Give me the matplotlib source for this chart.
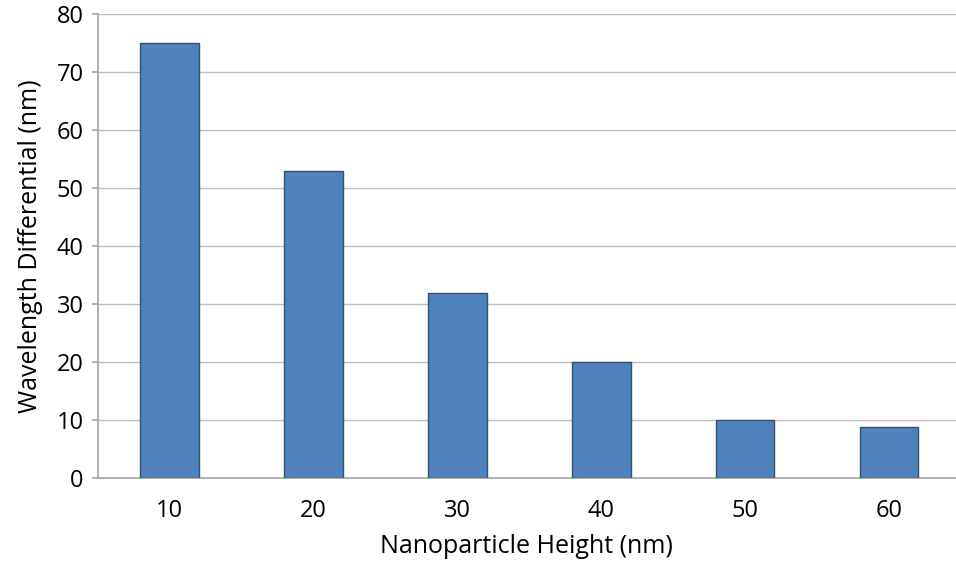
import matplotlib
matplotlib.use("Agg")
import matplotlib.pyplot as plt

heights_nm = ["10", "20", "30", "40", "50", "60"]
wavelength_diff = [75, 53, 32, 20, 10, 8.9]
y_ticks = [0, 10, 20, 30, 40, 50, 60, 70, 80]

plt.rcParams['font.family'] = ['Open Sans', 'DejaVu Sans']

fig = plt.figure(figsize=(9.56, 5.61), dpi=100)
W, H = 956, 561
left, right, top, bottom = 97.5, 956, 14, 478.3
ax = fig.add_axes([left / W, 1 - bottom / H, (right - left) / W, (bottom - top) / H])

x = list(range(len(heights_nm)))
ax.bar(x, wavelength_diff, width=0.406, color="#4F81BD", edgecolor="#3A4F68",
       linewidth=1.0, zorder=3)

ax.set_ylim(0, 80)
ax.set_xlim(-0.5, 5.464)
ax.set_yticks(y_ticks)
ax.set_xticks(x)
ax.set_xticklabels(heights_nm)
ax.yaxis.grid(True, color="#BDBDBD", linewidth=1.0, zorder=0)
ax.set_axisbelow(True)

for side in ("top", "right"):
    ax.spines[side].set_visible(False)
for side in ("left", "bottom"):
    ax.spines[side].set_color("#A6A6A6")
    ax.spines[side].set_linewidth(1.2)

ax.tick_params(axis="x", length=0, labelsize=17, colors="black", pad=15)
ax.tick_params(axis="y", length=4, width=1.2, color="#A6A6A6", direction="out",
               labelsize=17, labelcolor="black", pad=6)

ax.set_xlabel("Nanoparticle Height (nm)", fontsize=18, labelpad=8)
ax.set_ylabel("Wavelength Differential (nm)", fontsize=18, labelpad=10)

fig.savefig("out.png", dpi=100)
